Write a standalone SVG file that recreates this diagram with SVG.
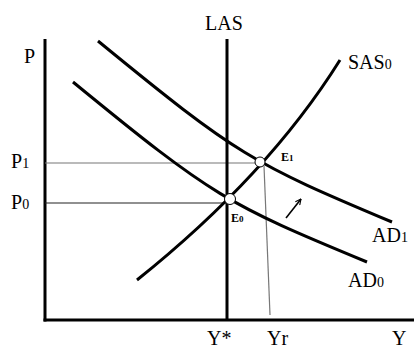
<svg xmlns="http://www.w3.org/2000/svg" width="414" height="350" viewBox="0 0 414 350">
<defs>
<style>
.lbl{font-family:"Liberation Serif","Times New Roman",serif;font-size:20px;fill:#000}
.sub{font-size:14px}
.el{font-family:"Liberation Serif","Times New Roman",serif;font-size:12px;font-weight:bold;fill:#000}
.esub{font-size:9px}
.thick{fill:none;stroke:#000;stroke-width:3}
.guide{fill:none;stroke:#777;stroke-width:1.2}
.pt{fill:#fff;stroke:#000;stroke-width:1}
</style>
<marker id="ah" viewBox="0 0 10 10" refX="9" refY="5" markerWidth="7" markerHeight="7" orient="auto" markerUnits="userSpaceOnUse">
<path d="M1,1 L9,5 L1,9" fill="none" stroke="#000" stroke-width="1.6"/>
</marker>
</defs>
<rect width="414" height="350" fill="#fff"/>
<g id="axes">
<line class="thick" x1="45" y1="39" x2="45" y2="321.5"/>
<line class="thick" x1="43.5" y1="320" x2="414" y2="320"/>
<text class="lbl" x="24" y="63">P</text>
<text class="lbl" x="392" y="345">Y</text>
</g>
<g id="connectors">
<line class="guide" x1="45" y1="163" x2="258" y2="163"/>
<line x1="45" y1="203" x2="227" y2="203" stroke="#222" stroke-width="1.2"/>
<line class="guide" x1="264" y1="166" x2="270" y2="315" stroke-width="1"/>
<line x1="286" y1="218" x2="301" y2="199" stroke="#000" stroke-width="1.6" marker-end="url(#ah)"/>
</g>
<g id="LAS">
<line class="thick" x1="227" y1="39" x2="227" y2="321"/>
<text class="lbl" x="205" y="30">LAS</text>
</g>
<g id="SAS0">
<path class="thick" d="M137,280 C197,232 280,156 340,60"/>
<text class="lbl" x="348" y="69">SAS<tspan class="sub">0</tspan></text>
</g>
<g id="AD1">
<path class="thick" d="M98,41 C238,155.8 252,163.2 392,222"/>
<text class="lbl" x="372" y="242">AD<tspan class="sub">1</tspan></text>
</g>
<g id="AD0">
<path class="thick" d="M73,82 C213,196.8 227,204.2 367,262"/>
<text class="lbl" x="348" y="287">AD<tspan class="sub">0</tspan></text>
</g>
<g id="P1">
<text class="lbl" x="11" y="168">P<tspan class="sub">1</tspan></text>
</g>
<g id="P0">
<text class="lbl" x="11" y="209">P<tspan class="sub">0</tspan></text>
</g>
<g id="E1">
<circle class="pt" cx="260" cy="162" r="5"/>
<text class="el" x="281" y="161">E<tspan class="esub">1</tspan></text>
</g>
<g id="E0">
<circle class="pt" cx="230" cy="199" r="5.5"/>
<text class="el" x="231" y="222">E<tspan class="esub">0</tspan></text>
</g>
<g id="Ystar">
<text class="lbl" x="207" y="345">Y*</text>
</g>
<g id="Yr">
<text class="lbl" x="267" y="345">Yr</text>
</g>
</svg>
